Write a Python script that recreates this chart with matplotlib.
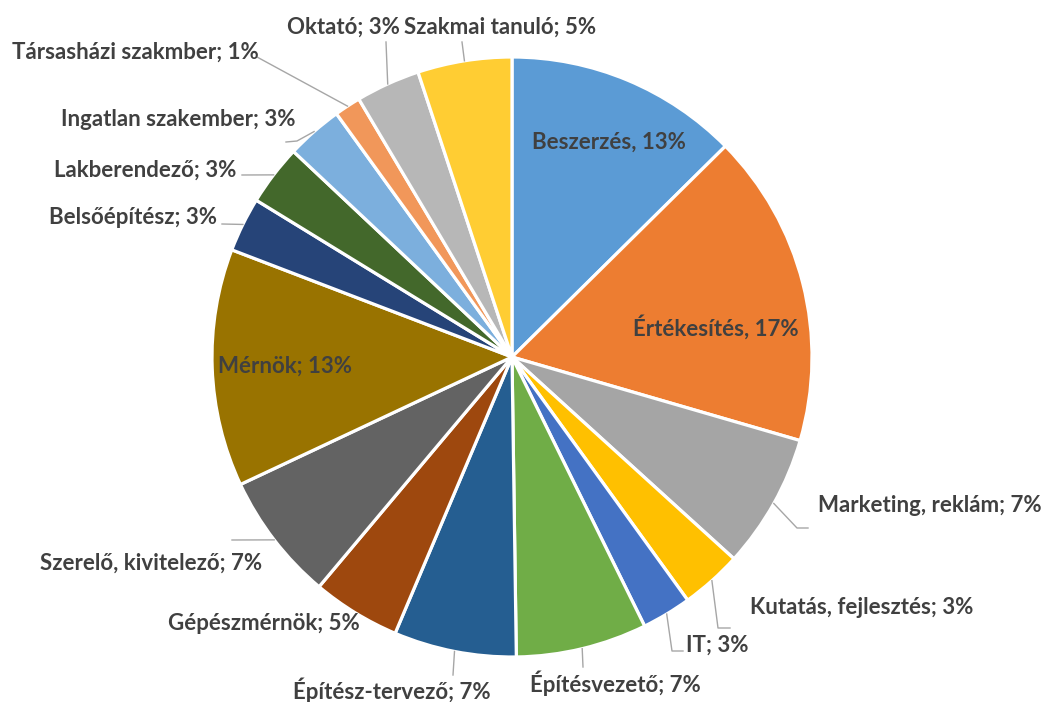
import matplotlib.pyplot as plt
import numpy as np

names = ["Beszerzés", "Értékesítés", "Marketing, reklám", "Kutatás, fejlesztés", "IT",
         "Építésvezető", "Építész-tervező", "Gépészmérnök", "Szerelő, kivitelező", "Mérnök",
         "Belsőépítész", "Lakberendező", "Ingatlan szakember", "Társasházi szakmber",
         "Oktató", "Szakmai tanuló"]
# shares (%)
values = [12.6, 16.9, 7.25, 3.3, 2.67, 7.06, 6.6, 4.75, 6.9, 12.8, 2.94, 3.26, 3.04, 1.42, 3.46, 5.07]
seps = [", ", ", ", "; ", "; ", "; ", "; ", "; ", "; ", "; ", "; ", "; ", "; ", "; ", "; ", "; ", "; "]
colors = ["#5B9BD5", "#ED7D31", "#A5A5A5", "#FFC000", "#4472C4", "#70AD47", "#255E91",
          "#9E480E", "#636363", "#997300", "#264478", "#43682B", "#7CAFDD", "#F1975A",
          "#B7B7B7", "#FFCD33"]

W, H = 1045, 702
# label layout in pixels from top-left: text centre, leader points after the rim point
text_pos = [(609, 142), (716, 327), (930, 505), (862, 607), (717, 645),
            (615, 683), (392, 690), (264, 623), (151, 563), (285, 366),
            (133, 217), (145, 170), (178, 120), (135, 52), (343, 27), (500, 27)]
leader = [None, None, [(797, 528), (808, 528)], [(718, 628), (730, 628)], [(672, 651), (683, 651)],
          [(583, 667)], [(453, 675)], None, [(232, 540)], None,
          [(222, 224)], [(242, 175)], [(297, 141), (286, 142)], [(257, 57)], [(386, 42)], [(462, 42)]]

plt.rcParams['font.family'] = ['Lato', 'DejaVu Sans']
fig = plt.figure(figsize=(W / 100, H / 100), dpi=100)
ax = fig.add_axes([0, 0, 1, 1])
cx, cy, R = 512, H - 357, 300
wedges, _ = ax.pie(values, colors=colors, startangle=90, counterclock=False,
                   center=(cx, cy), radius=R,
                   wedgeprops=dict(edgecolor='white', linewidth=2.3))
ax.set_xlim(0, W)
ax.set_ylim(0, H)
ax.set_aspect('equal')
ax.set_axis_off()

total = sum(values)
for i, w in enumerate(wedges):
    pct = round(100 * values[i] / total)
    label = f"{names[i]}{seps[i]}{pct}%"
    tx, ty = text_pos[i]
    ax.text(tx, H - ty, label, ha='center', va='center', fontsize=16,
            fontweight='bold', color='#404040')
    if leader[i] is not None:
        th = np.deg2rad((w.theta1 + w.theta2) / 2)
        xs = [cx + R * np.cos(th)] + [p[0] for p in leader[i]]
        ys = [cy + R * np.sin(th)] + [H - p[1] for p in leader[i]]
        ax.plot(xs, ys, color='#A6A6A6', lw=1)

fig.savefig("out.png", dpi=100, facecolor='white')
